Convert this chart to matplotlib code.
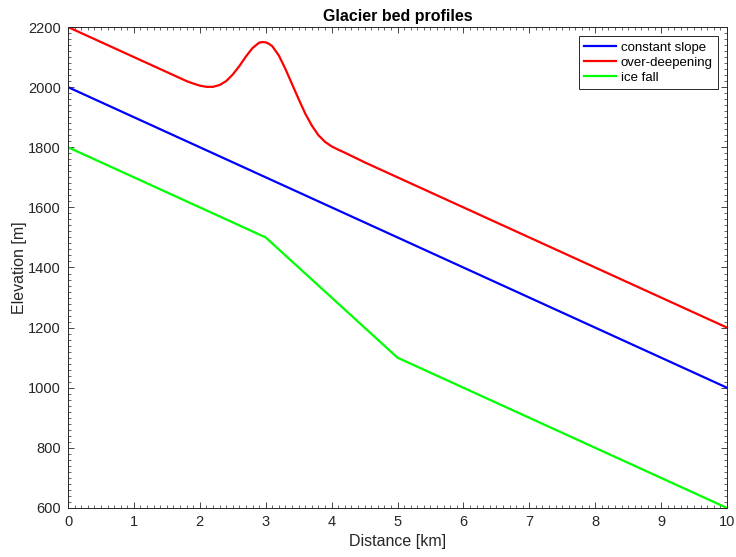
import matplotlib
matplotlib.use("Agg")
import matplotlib.pyplot as plt
from matplotlib.ticker import MultipleLocator

plt.rcParams['font.family'] = ['Liberation Sans', 'DejaVu Sans']

# Bed profiles (distance in km, elevation in m)
x_const = [0, 10]
y_const = [2000, 1000]

x_over = [0, 1.0, 1.8, 1.9, 2.0, 2.1, 2.2, 2.3, 2.4, 2.5, 2.6, 2.7, 2.8,
          2.9, 2.95, 3.0, 3.05, 3.1, 3.2, 3.3, 3.4, 3.5, 3.6, 3.7, 3.8,
          3.9, 4.0, 4.1, 4.2, 4.35, 4.5, 10]
y_over = [2200, 2100, 2020, 2012, 2005, 2001, 2001, 2007, 2020, 2042, 2070,
          2102, 2130, 2148, 2150, 2149, 2144, 2136, 2105, 2060, 2010, 1960,
          1912, 1872, 1840, 1818, 1803, 1792, 1782, 1766, 1750, 1200]

x_fall = [0, 3, 5, 10]
y_fall = [1800, 1500, 1100, 600]

fig = plt.figure(figsize=(7.36, 5.57), dpi=100)
ax = fig.add_axes([0.0924, 0.088, 0.8954, 0.8635])

ax.plot(x_const, y_const, color=(0, 0, 1), lw=1.6, label='constant slope')
ax.plot(x_over, y_over, color=(1, 0, 0), lw=1.6, label='over-deepening')
ax.plot(x_fall, y_fall, color=(0, 1, 0), lw=1.6, label='ice fall')

ax.set_xlim(0, 10)
ax.set_ylim(600, 2200)
ax.xaxis.set_major_locator(MultipleLocator(1))
ax.xaxis.set_minor_locator(MultipleLocator(0.1))
ax.yaxis.set_major_locator(MultipleLocator(200))
ax.yaxis.set_minor_locator(MultipleLocator(20))
ax.tick_params(which='both', direction='in', top=True, right=True,
               labelsize=10.5, colors='#262626', labelcolor='#262626')
ax.tick_params(which='major', length=4, width=0.6, pad=5)
ax.tick_params(which='minor', length=2, width=0.5)
for s in ax.spines.values():
    s.set_linewidth(0.7)
    s.set_color('#262626')

ax.set_xlabel('Distance [km]', fontsize=11.5, color='#262626', labelpad=4)
ax.set_ylabel('Elevation [m]', fontsize=11.5, color='#262626', labelpad=1)
ax.set_title('Glacier bed profiles', fontsize=11.5, fontweight='bold', pad=4)

leg = ax.legend(loc='upper right', fontsize=9.5, fancybox=False,
                edgecolor='#262626', framealpha=1, handlelength=2.4,
                handletextpad=0.35, borderaxespad=0.7, labelspacing=0.22,
                borderpad=0.4)
leg.get_frame().set_linewidth(0.7)

fig.savefig('out.png', dpi=100)
